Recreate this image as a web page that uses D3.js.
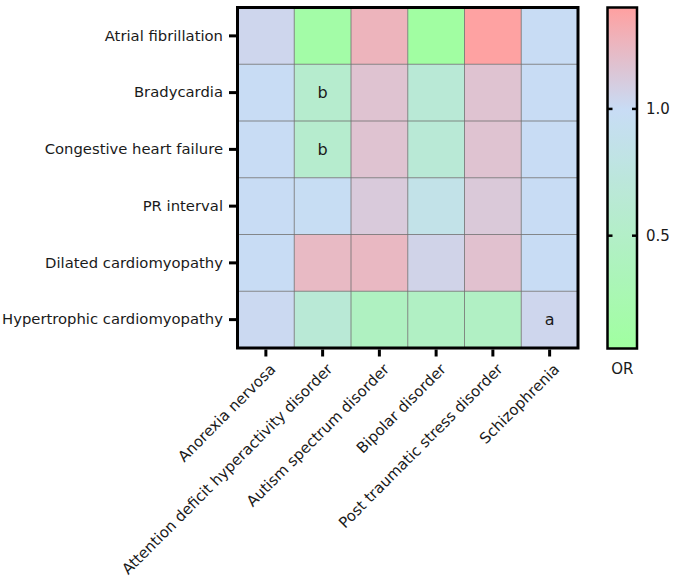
<!DOCTYPE html>
<html>
<head>
<meta charset="utf-8">
<script src="https://cdn.jsdelivr.net/npm/d3@7"></script>
<style>
  html, body { margin: 0; padding: 0; background: #ffffff; }
  svg { display: block; }
  text { font-family: "DejaVu Sans", Verdana, sans-serif; fill: #1a1a1a; }
</style>
</head>
<body>
<svg id="chart" width="673" height="581"></svg>
<script>
// ---- data ----
const rows = ["Atrial fibrillation", "Bradycardia", "Congestive heart failure", "PR interval", "Dilated cardiomyopathy", "Hypertrophic cardiomyopathy"];
const cols = ["Anorexia nervosa", "Attention deficit hyperactivity disorder", "Autism spectrum disorder", "Bipolar disorder", "Post traumatic stress disorder", "Schizophrenia"];
// OR values, one array per row (columns in order above)
const atrialFibrillation   = [1.04, 0.13, 1.27, 0.08, 1.39, 0.99];
const bradycardia          = [0.99, 0.57, 1.17, 0.65, 1.17, 0.99];
const congestiveHF         = [0.99, 0.57, 1.17, 0.65, 1.17, 0.99];
const prInterval           = [0.99, 0.98, 1.12, 0.85, 1.13, 0.99];
const dilatedCM            = [0.99, 1.23, 1.24, 1.06, 1.18, 0.99];
const hypertrophicCM       = [1.02, 0.65, 0.42, 0.46, 0.45, 1.04];
const values = [atrialFibrillation, bradycardia, congestiveHF, prInterval, dilatedCM, hypertrophicCM];
// cell annotations [row, col, text]
const annotations = [[1, 1, "b"], [2, 1, "b"], [5, 5, "a"]];
const legendTicks = [0.5, 1.0];
const legendDomain = [0.055, 1.0, 1.4];
const legendTitle = "OR";

// ---- layout ----
const svg = d3.select("#chart");
const L = 237.5, R = 578, T = 7.5, B = 348;
const FS = "15px";

const x = d3.scaleBand().domain(cols).range([L, R]).padding(0);
const y = d3.scaleBand().domain(rows).range([T, B]).padding(0);
const color = d3.scaleLinear().domain(legendDomain)
  .range(["#a0ffa0", "#c8dcf5", "#ffa0a0"]).interpolate(d3.interpolateRgb).clamp(true);

const cells = [];
values.forEach((arr, ri) => arr.forEach((v, ci) => cells.push({r: rows[ri], c: cols[ci], v})));

svg.append("g").selectAll("rect").data(cells).join("rect")
  .attr("x", d => x(d.c)).attr("y", d => y(d.r))
  .attr("width", x.bandwidth()).attr("height", y.bandwidth())
  .attr("fill", d => color(d.v));

// grid lines
const grid = svg.append("g").attr("stroke", "#6e6e6e").attr("stroke-width", 1).attr("stroke-opacity", 0.8);
cols.slice(1).forEach(c => grid.append("line").attr("x1", x(c)).attr("x2", x(c)).attr("y1", T).attr("y2", B));
rows.slice(1).forEach(r => grid.append("line").attr("y1", y(r)).attr("y2", y(r)).attr("x1", L).attr("x2", R));

// annotations
svg.append("g").selectAll("text").data(annotations).join("text")
  .attr("x", d => x(cols[d[1]]) + x.bandwidth() / 2)
  .attr("y", d => y(rows[d[0]]) + y.bandwidth() / 2)
  .attr("dy", "0.35em").attr("text-anchor", "middle")
  .style("font-size", "16px").text(d => d[2]);

// frame
svg.append("rect").attr("x", L).attr("y", T).attr("width", R - L).attr("height", B - T)
  .attr("fill", "none").attr("stroke", "#000").attr("stroke-width", 3);

// y axis
const yAxis = svg.append("g").attr("transform", `translate(${L - 1.5},0)`)
  .call(d3.axisLeft(y).tickSize(7).tickPadding(6));
yAxis.select(".domain").remove();
yAxis.selectAll(".tick line").attr("stroke", "#000").attr("stroke-width", 3);
yAxis.selectAll(".tick text").style("font-size", "14.8px").attr("fill", "#1a1a1a");

// x axis
const xAxis = svg.append("g").attr("transform", `translate(0,${B + 1.5})`)
  .call(d3.axisBottom(x).tickSize(7).tickPadding(0));
xAxis.select(".domain").remove();
xAxis.selectAll(".tick line").attr("stroke", "#000").attr("stroke-width", 3);
xAxis.selectAll(".tick text")
  .style("font-size", FS).attr("fill", "#1a1a1a")
  .attr("text-anchor", "end")
  .attr("transform", "translate(7,17) rotate(-45)")
  .attr("x", 0).attr("y", 0).attr("dy", "0.35em");

// ---- legend ----
const lx = 607.5, lw = 29.5, lt = 7.5, lb = 348.5;
const ly = d3.scaleLinear().domain([legendDomain[0], legendDomain[2]]).range([lb, lt]);
const defs = svg.append("defs");
const grad = defs.append("linearGradient").attr("id", "lg")
  .attr("x1", 0).attr("y1", 1).attr("x2", 0).attr("y2", 0);
d3.range(0, 1.0001, 0.05).forEach(t => {
  const v = legendDomain[0] + t * (legendDomain[2] - legendDomain[0]);
  grad.append("stop").attr("offset", t).attr("stop-color", color(v));
});
svg.append("rect").attr("x", lx).attr("y", lt).attr("width", lw).attr("height", lb - lt)
  .attr("fill", "url(#lg)").attr("stroke", "#000").attr("stroke-width", 2.5);
const lg = svg.append("g");
lg.selectAll("line.l").data(legendTicks).join("line").attr("class", "l")
  .attr("x1", lx).attr("x2", lx + 5).attr("y1", d => ly(d)).attr("y2", d => ly(d))
  .attr("stroke", "#000").attr("stroke-width", 2.5);
lg.selectAll("line.r").data(legendTicks).join("line").attr("class", "r")
  .attr("x1", lx + lw - 5).attr("x2", lx + lw).attr("y1", d => ly(d)).attr("y2", d => ly(d))
  .attr("stroke", "#000").attr("stroke-width", 2.5);
lg.selectAll("text").data(legendTicks).join("text")
  .attr("x", lx + lw + 9).attr("y", d => ly(d)).attr("dy", "0.35em")
  .style("font-size", FS).text(d => d3.format(".1f")(d));
svg.append("text").attr("x", lx + lw / 2).attr("y", 374).attr("text-anchor", "middle")
  .style("font-size", FS).text(legendTitle);
</script>
</body>
</html>
